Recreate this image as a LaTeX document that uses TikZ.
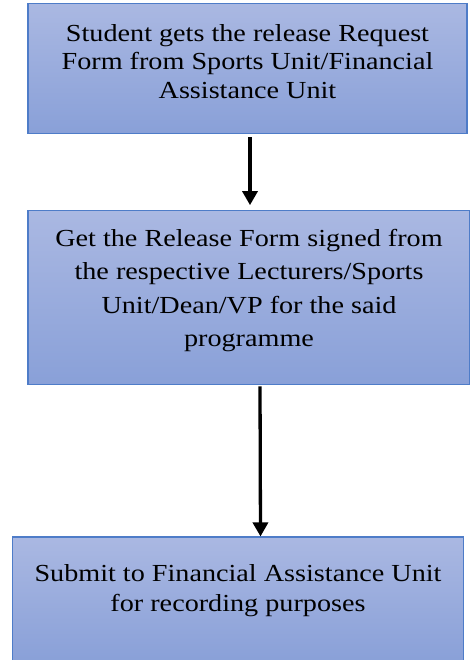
\documentclass[tikz,border=0pt]{standalone}
\usepackage{fontspec}
\setmainfont{Liberation Serif}[FakeStretch=1.15]
\usepackage{tikz}
\usetikzlibrary{arrows.meta,positioning}
\definecolor{boxtop}{RGB}{170,184,226}
\definecolor{boxbot}{RGB}{137,160,216}
\definecolor{boxline}{RGB}{78,124,200}
\tikzset{%
  >={Triangle[width=15pt,length=14pt]},
          base/.style = {rectangle, draw=boxline, line width=1.3pt,
                         top color=boxtop, bottom color=boxbot,
                         text centered, align=center,
                         font=\fontsize{24.5pt}{28.5pt}\selectfont},
  stepbox/.style = {base},
      arr/.style = {->, line width=3.3pt, black},
}
\begin{document}
\begin{tikzpicture}[x=1pt, y=-1pt]
  \useasboundingbox (0,0) rectangle (469,660);

  \node (reqform)  [stepbox, minimum width=439pt, minimum height=130pt] at (247.5,68.5)
        {Student gets the release Request\\ Form from Sports Unit/Financial\\ Assistance Unit\\[-14.5pt]};
  \node (signform) [stepbox, below=76pt of reqform, xshift=1.5pt,
                    minimum width=442pt, minimum height=174pt,
                    font=\fontsize{24.5pt}{33.5pt}\selectfont]
        {Get the Release Form signed from\\ the respective Lecturers/Sports\\ Unit/Dean/VP for the said\\ programme\\[-13.5pt]};
  \node (submit)   [stepbox, below=151pt of signform, xshift=-11pt,
                    minimum width=451pt, minimum height=125pt,
                    font=\fontsize{24.5pt}{29.5pt}\selectfont]
        {Submit to Financial Assistance Unit\\ for recording purposes\\[-6.5pt]};

  \draw[arr, shorten <=3pt, shorten >=5pt] ([xshift=2.5pt]reqform.south) -- ([xshift=1pt]signform.north);
  \draw[arr, shorten <=1pt] ([xshift=11pt]signform.south) -- ([xshift=22.5pt]submit.north);
\end{tikzpicture}
\end{document}
